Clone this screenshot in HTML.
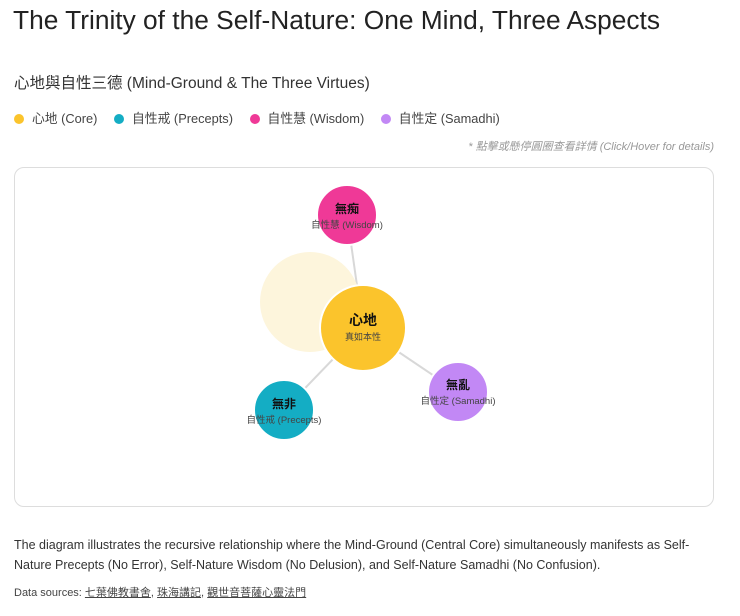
<!DOCTYPE html>
<html><head><meta charset="utf-8"><style>
body{margin:0;background:#fff;font-family:"Liberation Sans","Noto Sans CJK TC",sans-serif;color:#222;width:740px;height:616px;overflow:hidden;position:relative}
.a{position:absolute;white-space:nowrap}
h1{position:absolute;left:13px;top:5px;margin:0;font-weight:400;font-size:26.3px;color:#222}
.dot{display:inline-block;width:10px;height:10px;border-radius:50%;margin-right:8px;vertical-align:-1px}
.leg span.i{margin-right:13px}
</style></head><body>
<h1>The Trinity of the Self-Nature: One Mind, Three Aspects</h1>
<div class="a" style="left:14px;top:71px;font-size:15.5px;color:#333">心地與自性三德 (Mind-Ground &amp; The Three Virtues)</div>
<div class="a leg" style="left:14px;top:108px;font-size:12.8px;color:#444">
<span class="i"><span class="dot" style="background:#fbc42c"></span>心地 (Core)</span>
<span class="i"><span class="dot" style="background:#14adc4"></span>自性戒 (Precepts)</span>
<span class="i"><span class="dot" style="background:#ef3997"></span>自性慧 (Wisdom)</span>
<span class="i"><span class="dot" style="background:#c288f5"></span>自性定 (Samadhi)</span>
</div>
<div class="a" style="right:26px;top:138px;font-size:11px;color:#999;font-style:italic">* 點擊或懸停圓圈查看詳情 (Click/Hover for details)</div>
<div class="a" style="left:14px;top:167px;width:698px;height:338px;border:1px solid #ddd;border-radius:10px"></div>
<svg class="a" style="left:0;top:0" width="740" height="616">
<g stroke="#d8d8d8" stroke-width="2">
<line x1="347" y1="215" x2="363" y2="328"/>
<line x1="363" y1="328" x2="284" y2="410"/>
<line x1="363" y1="328" x2="458" y2="392"/>
</g>
<circle cx="310" cy="302" r="50" fill="#fdf5dc"/>
<g stroke="#fff" stroke-width="2">
<circle cx="363" cy="328" r="43" fill="#fbc42c"/>
<circle cx="347" cy="215" r="30" fill="#ef3997"/>
<circle cx="284" cy="410" r="30" fill="#14adc4"/>
<circle cx="458" cy="392" r="30" fill="#c288f5"/>
</g>
<g font-family="Liberation Sans,Noto Sans CJK TC,sans-serif" text-anchor="middle">
<text x="363" y="325" font-size="14" font-weight="bold" fill="#111">心地</text>
<text x="363" y="340" font-size="9" fill="#444">真如本性</text>
<text x="347" y="213" font-size="12" font-weight="bold" fill="#111">無痴</text>
<text x="347" y="228" font-size="9.5" fill="#444">自性慧 (Wisdom)</text>
<text x="284" y="408" font-size="12" font-weight="bold" fill="#111">無非</text>
<text x="284" y="423" font-size="9.5" fill="#444">自性戒 (Precepts)</text>
<text x="458" y="389" font-size="12" font-weight="bold" fill="#111">無亂</text>
<text x="458" y="404" font-size="9.5" fill="#444">自性定 (Samadhi)</text>
</g>
</svg>
<div class="a" style="left:14px;top:535px;font-size:12.5px;line-height:20px;color:#333">The diagram illustrates the recursive relationship where the Mind-Ground (Central Core) simultaneously manifests as Self-<br>Nature Precepts (No Error), Self-Nature Wisdom (No Delusion), and Self-Nature Samadhi (No Confusion).</div>
<div class="a" style="left:14px;top:584px;font-size:11px;color:#444">Data sources: <u>七葉佛教書舍</u>, <u>珠海講記</u>, <u>觀世音菩薩心靈法門</u></div>
</body></html>
